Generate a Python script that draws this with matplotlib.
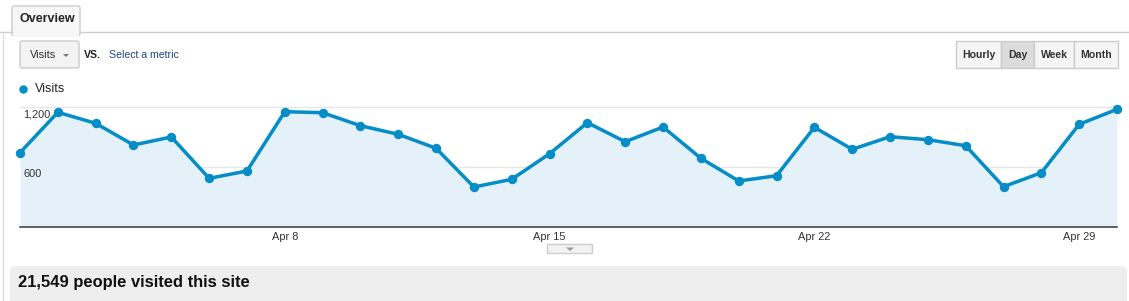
import matplotlib.pyplot as plt
from matplotlib.patches import Rectangle, FancyBboxPatch, Polygon
from matplotlib.transforms import offset_copy

# daily visits, Apr 1 - Apr 30
days = list(range(1, 31))
visits = [743, 1147, 1037, 820, 900, 487, 560, 1153, 1143, 1013,
          927, 787, 400, 477, 733, 1043, 853, 1000, 687, 460,
          513, 997, 777, 903, 873, 813, 403, 543, 1027, 1177]
tick_days = [8, 15, 22, 29]
tick_labels = ["Apr 8", "Apr 15", "Apr 22", "Apr 29"]
y_ticks = [600, 1200]
y_labels = ["600", "1,200"]
periods = ["Hourly", "Day", "Week", "Month"]
selected_period = "Day"
total_text = "21,549 people visited this site"

W, H = 1129, 301
plt.rcParams["font.family"] = ["Liberation Sans", "DejaVu Sans"]
blue = "#058dc7"

fig = plt.figure(figsize=(W / 100, H / 100), dpi=100)

# page decoration axes in pixel coords
bg = fig.add_axes([0, 0, 1, 1])
bg.set_xlim(0, W)
bg.set_ylim(H, 0)
bg.axis("off")


def px(size):
    return size * 72 / 100


# tab line + left border
bg.plot([0, 12], [31.5, 31.5], color="#cccccc", lw=1)
bg.plot([80, W], [31.5, 31.5], color="#cccccc", lw=1)
bg.plot([2.5, 2.5], [32, H], color="#dddddd", lw=1)
bg.add_patch(FancyBboxPatch((12, 6), 68, 30, boxstyle="round,pad=0,rounding_size=2",
                            fc="#f7f7f7", ec="#cccccc", lw=1))
bg.add_patch(Rectangle((12.7, 31), 66.6, 6, fc="#f7f7f7", ec="none"))
bg.text(19, 19, "Overview", fontsize=px(12.5), fontweight="bold", color="#222222",
        va="center", ha="left")

# metric dropdown
bg.add_patch(FancyBboxPatch((20, 41), 59, 27, boxstyle="round,pad=0,rounding_size=2",
                            fc="#f3f3f3", ec="#cccccc", lw=1))
bg.text(30, 55, "Visits", fontsize=px(11), color="#333333", va="center")
bg.add_patch(Polygon([[63, 54], [69, 54], [66, 57]], closed=True, fc="#777777", ec="none"))
bg.text(84, 55, "VS.", fontsize=px(10.5), fontweight="bold", color="#222222", va="center")
bg.text(109, 55, "Select a metric", fontsize=px(10.5), color="#1c4587", va="center")

# period buttons
edges = [956, 1001, 1034, 1074, 1118]
for i, name in enumerate(periods):
    fc = "#dcdcdc" if name == selected_period else "#f5f5f5"
    bg.add_patch(Rectangle((edges[i], 41), edges[i + 1] - edges[i], 27,
                           fc=fc, ec="#cccccc", lw=1))
    bg.text((edges[i] + edges[i + 1]) / 2, 55, name, fontsize=px(10.5),
            fontweight="bold", color="#333333", ha="center", va="center")

# legend
bg.plot(23, 89, "o", color=blue, ms=px(7))
bg.text(35, 89, "Visits", fontsize=px(12.5), color="#222222", va="center")

# expander tab under chart
bg.add_patch(Rectangle((547, 244), 45, 9, fc="#f2f2f2", ec="#cccccc", lw=1))
bg.add_patch(Polygon([[566, 247.5], [574, 247.5], [570, 251]], closed=True,
                     fc="#999999", ec="none"))

# summary bar
bg.add_patch(FancyBboxPatch((10, 266), 1117, 40, boxstyle="round,pad=0,rounding_size=5",
                            fc="#eeeeee", ec="none"))
bg.text(18, 282, total_text, fontsize=px(16.5), fontweight="bold", color="#111111",
        va="center", ha="left")

# chart
left, right, top, bottom = 20, 1117, 100, 227
ax = fig.add_axes([left / W, 1 - bottom / H, (right - left) / W, (bottom - top) / H])
ax.patch.set_alpha(0)
ax.fill_between(days, visits, 0, color="#e5f1f8", lw=0)
ax.plot(days, visits, color=blue, lw=px(3.5), marker="o", ms=px(8), clip_on=False,
        zorder=3)
ax.set_xlim(1, 30)
ax.set_ylim(0, 1270)

ax.set_yticks(y_ticks)
ax.set_yticklabels([])
ax.tick_params(axis="y", length=0)
ax.grid(axis="y", color="#e6e6e6", lw=1)
ax.set_axisbelow(True)
lab_tr = offset_copy(ax.get_yaxis_transform(), fig=fig, x=3, y=-2, units="dots")
for v, s in zip(y_ticks, y_labels):
    ax.text(0, v, s, transform=lab_tr, fontsize=px(11), color="#333333",
            ha="left", va="top", zorder=4)

ax.set_xticks(tick_days)
ax.set_xticklabels(tick_labels, fontsize=px(11), color="#333333")
ax.tick_params(axis="x", length=0, pad=px(5))

for s in ["top", "left", "right"]:
    ax.spines[s].set_visible(False)
ax.spines["bottom"].set_color("#333333")
ax.spines["bottom"].set_linewidth(px(1.5))

fig.savefig("out.png", dpi=100)
